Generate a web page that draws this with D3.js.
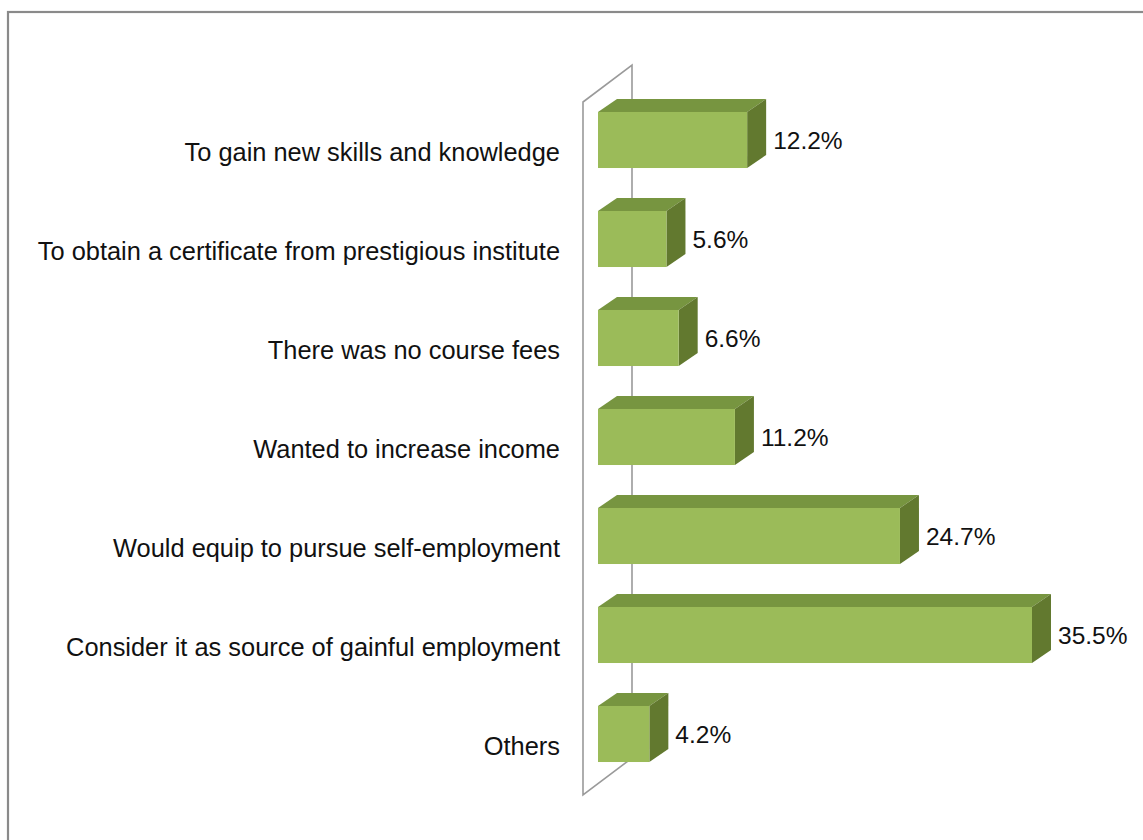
<!DOCTYPE html>
<html>
<head>
<meta charset="utf-8">
<script src="https://cdn.jsdelivr.net/npm/d3@7"></script>
<style>
  html, body { margin: 0; padding: 0; background: #fff; }
  svg { display: block; }
</style>
</head>
<body>
<svg id="chart" width="1143" height="840"></svg>
<script>
// Reasons for joining the course (percent of respondents)
const categories = [
  "To gain new skills and knowledge",
  "To obtain a certificate from prestigious institute",
  "There was no course fees",
  "Wanted to increase income",
  "Would equip to pursue self-employment",
  "Consider it as source of gainful employment",
  "Others"
];
const values = [12.2, 5.6, 6.6, 11.2, 24.7, 35.5, 4.2];
const valueLabels = ["12.2%", "5.6%", "6.6%", "11.2%", "24.7%", "35.5%", "4.2%"];

const W = 1143, H = 840;
const svg = d3.select("#chart");
const FONT = "'Liberation Sans', Arial, sans-serif";

// Outer chart frame (only left/top edges fall inside the view)
svg.append("rect")
  .attr("x", 8).attr("y", 12)
  .attr("width", W + 20).attr("height", H + 20)
  .attr("fill", "#fff")
  .attr("stroke", "#8a8a8a")
  .attr("stroke-width", 2.2);

const x = d3.scaleLinear().domain([0, 35.5]).range([598, 1032]);
const y = d3.scaleBand().domain(categories).range([90.5, 783.5]).padding(0);

const barH = y.bandwidth() * 0.566;
const dx = 19, dy = -13;           // bar depth offset
const wallDx = 49, wallDy = -37;   // back-wall depth offset

// Side wall behind the bars
const wx = x(0) - 15;
const wTop = y.range()[0] + 11.5, wBot = y.range()[1] + 11.5;
svg.append("path")
  .attr("d", `M${wx},${wTop} L${wx + wallDx},${wTop + wallDy} L${wx + wallDx},${wBot + wallDy} L${wx},${wBot} Z`)
  .attr("fill", "#fff")
  .attr("stroke", "#9a9a9a")
  .attr("stroke-width", 1.6);

const frontFill = "#9bbb59", topFill = "#779540", sideFill = "#62792f";

const bars = svg.append("g").selectAll("g")
  .data(categories.map((c, i) => ({ c, v: values[i], label: valueLabels[i] })))
  .join("g");

bars.each(function(d) {
  const g = d3.select(this);
  const x0 = x(0), x1 = x(d.v);
  const cy = y(d.c) + y.bandwidth() / 2;
  const y0 = cy - barH / 2, y1 = cy + barH / 2;
  // top face
  g.append("path")
    .attr("d", `M${x0},${y0} L${x0 + dx},${y0 + dy} L${x1 + dx},${y0 + dy} L${x1},${y0} Z`)
    .attr("fill", topFill);
  // side face
  g.append("path")
    .attr("d", `M${x1},${y0} L${x1 + dx},${y0 + dy} L${x1 + dx},${y1 + dy} L${x1},${y1} Z`)
    .attr("fill", sideFill);
  // front face
  g.append("rect")
    .attr("x", x0).attr("y", y0)
    .attr("width", x1 - x0).attr("height", barH)
    .attr("fill", frontFill);
  // value label
  g.append("text")
    .attr("x", x1 + 26)
    .attr("y", cy + 9)
    .attr("font-family", FONT)
    .attr("font-size", 24.5)
    .attr("fill", "#111")
    .text(d.label);
});

// Category labels
svg.append("g").selectAll("text")
  .data(categories)
  .join("text")
  .attr("x", 560)
  .attr("y", d => y(d) + y.bandwidth() / 2 + 21)
  .attr("text-anchor", "end")
  .attr("font-family", FONT)
  .attr("font-size", 25.4)
  .attr("fill", "#111")
  .text(d => d);
</script>
</body>
</html>
